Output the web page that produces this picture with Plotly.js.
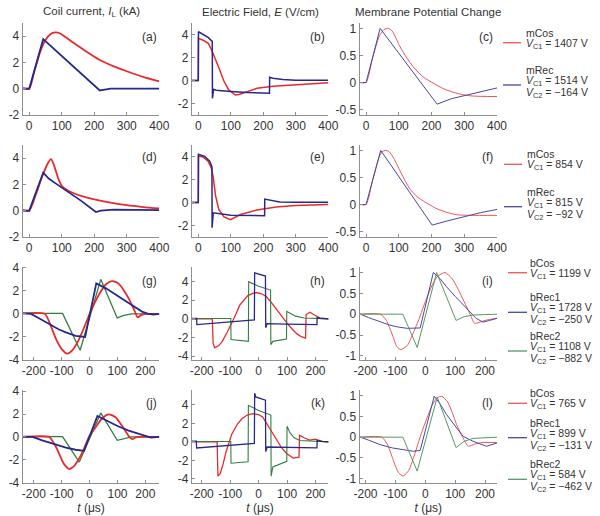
<!DOCTYPE html>
<html><head><meta charset="utf-8">
<script src="https://cdn.plot.ly/plotly-3.0.1.min.js"></script>
<style>html,body{margin:0;padding:0;background:#fff}#chart{width:600px;height:516px}</style>
</head><body><div id="chart"></div>
<script>
// ---------- DATA ----------
// (a) coil current, kA
const aCosT=[-20,0,15,35,50,65,80,95,110,130,146,180,217,260,300,350,400];
const aCosY=[0.03,0,1.25,2.9,3.7,4.15,4.28,4.2,3.95,3.6,3.33,2.75,2.18,1.7,1.33,0.9,0.56];
const aRecT=[-20,0,43,217,228,250,400];
const aRecY=[0.03,0,3.77,-0.13,-0.08,0,0];
// (b) electric field, V/cm
const bCosT=[-20,0,0.5,15,31,41,62,78,93,109,114,125,150,181,230,284,340,400];
const bCosY=[0,0,3.67,3.5,3.23,2.65,1.2,0,-0.8,-1.2,-1.26,-1.22,-0.95,-0.68,-0.5,-0.39,-0.28,-0.19];
const bRecT=[-20,0,0.5,15,30,43,43.5,47,55,100,150,219,219.5,230,260,300,400];
const bRecY=[0,0,4.24,4.0,3.75,3.4,-1.55,-0.77,-0.85,-0.95,-1.05,-1.1,0.28,0.2,0.08,0.03,0.02];
// (c) membrane potential change
const cCosT=[-20,0,20,40,55,68,80,104,125,144,175,205,235,266,300,327,400];
const cCosY=[0,0,0.45,0.85,0.98,1.0,0.95,0.66,0.45,0.29,0.1,-0.01,-0.11,-0.18,-0.23,-0.25,-0.26];
const cRecT=[-20,0,43,104,144,180,217,260,327,400];
const cRecY=[0,0,1.0,0.51,0.17,-0.12,-0.4,-0.3,-0.21,-0.1];
// (d)
const dCosT=[-20,0,20,40,55,67,75,90,100,115,135,170,200,250,300,350,400];
const dCosY=[0.03,0,1.2,2.6,3.5,3.92,3.55,2.4,1.9,1.6,1.35,1.05,0.87,0.62,0.42,0.28,0.17];
const dRecT=[-20,0,43,60,80,120,160,205,220,260,400];
const dRecY=[0.03,0,2.9,2.45,2.1,1.45,0.75,-0.1,0.0,0.08,0.05];
// (e)
const eCosT=[-20,0,0.5,15,30,40,46,53,63,79,99,115,130,180,240,300,400];
const eCosY=[0,0,4.05,3.95,3.6,3.0,2.2,0.6,-0.6,-1.25,-1.5,-1.3,-1.05,-0.65,-0.4,-0.27,-0.17];
const eRecT=[-20,0,0.5,20,35,42,42.5,46,100,204,204.5,220,250,300,400];
const eRecY=[0,0,4.2,4.0,3.6,3.1,-2.2,-0.9,-1.1,-1.15,0.3,0.2,0.05,0.03,0.02];
// (f)
const fCosT=[-20,0,20,40,50,60,70,85,104,120,135,155,176,217,250,278,320,400];
const fCosY=[0,0,0.45,0.88,0.98,1.0,0.98,0.85,0.62,0.43,0.28,0.15,0.06,-0.08,-0.15,-0.19,-0.2,-0.2];
const fRecT=[-20,0,45,100,150,202,250,300,350,400];
const fRecY=[0,0,1.0,0.52,0.09,-0.38,-0.3,-0.22,-0.15,-0.09];
// (g)
const gCosT=[-240,-160,-140,-120,-100,-80,-60,-40,-20,0,20,40,60,80,100,120,140,160,172,185,200,250];
const gCosY=[0.05,0,-1.0,-2.2,-3.05,-3.45,-3.1,-2.3,-1.2,0,1.05,1.95,2.6,2.85,2.7,2.15,1.35,0.35,-0.3,-0.1,0,0];
const gRec1T=[-240,-210,-180,-144,-110,-85,-50,-16,24,60,100,140,188,210,230,250];
const gRec1Y=[0.05,0,-0.4,-0.9,-1.35,-1.6,-1.9,-2.0,2.65,2.2,1.6,0.95,0.2,0,-0.05,0];
const gRec2T=[-240,-97,-34,40,99,120,150,250];
const gRec2Y=[0.05,0.05,-3.15,3.0,-0.35,-0.15,0,0];
// (h)
const hCosT=[-240,-163,-160,-155,-140,-128,-110,-97,-80,-67,-50,-38,-20,-8,10,27,45,63,80,99,120,135,150,165,167,180,195,215,250];
const hCosY=[0,0,-2.6,-3.1,-2.85,-2.4,-1.4,-0.6,0.5,1.45,2.1,2.5,2.75,2.83,2.7,2.4,1.75,1.0,0.3,-0.43,-1.15,-1.6,-1.9,-2.05,0.45,0.72,0.45,0.12,0];
const hRec1T=[-240,-218,-217,-150,-80,-15,-14,0,24,25,30,100,205,206,215,250];
const hRec1Y=[0.05,0.05,-0.6,-0.45,-0.3,-0.1,4.95,4.8,4.6,-0.95,-0.5,-0.55,-0.6,0.15,0.05,0];
const hRec2T=[-240,-98,-97,-36,-35,0,42,43,50,98,99,110,130,160,250];
const hRec2Y=[0.05,0.05,-2.2,-2.4,4.0,3.5,3.1,-2.75,-2.4,-2.15,0.8,0.6,0.3,0.1,0];
// (i)
const iCosT=[-220,-150,-130,-110,-95,-82,-60,-40,-20,0,20,40,66,90,110,130,150,165,180,200,220,240];
const iCosY=[0,0,-0.15,-0.5,-0.78,-0.85,-0.75,-0.45,-0.1,0.3,0.65,0.9,1.0,0.85,0.6,0.3,0.0,-0.22,-0.2,-0.15,-0.12,-0.1];
const iRec1T=[-220,-217,-190,-150,-120,-90,-60,-17,27,50,71,100,126,150,170,193,215,240];
const iRec1Y=[0,0,-0.08,-0.19,-0.26,-0.31,-0.34,-0.33,1.0,0.85,0.66,0.43,0.22,0.05,-0.1,-0.19,-0.15,-0.1];
const iRec2T=[-220,-75,-27,38,103,130,160,240];
const iRec2Y=[0,0,-0.8,1.0,-0.15,-0.06,-0.02,0];
// (j)
const jCosT=[-240,-145,-132,-120,-108,-91,-73,-58,-43,-30,-19,0,22,46,69,93,117,141,153,165,180,250];
const jCosY=[0,0,-0.4,-0.9,-1.55,-2.4,-2.8,-2.6,-2.1,-1.55,-0.95,0.1,0.85,1.65,1.97,1.72,0.95,0.05,-0.2,-0.05,0,0];
const jRec1T=[-240,-205,-170,-144,-110,-85,-50,-20,28,60,100,140,170,200,220,250];
const jRec1Y=[0.03,0,-0.3,-0.5,-0.75,-0.93,-1.12,-1.22,1.83,1.45,0.95,0.55,0.3,0.05,-0.05,0];
const jRec2T=[-240,-97,-37,40,99,120,150,250];
const jRec2Y=[0.03,0.03,-2.2,2.1,-0.3,-0.15,0,0];
// (k)
const kCosT=[-240,-146,-143,-135,-125,-114,-95,-75,-59,-40,-21,0,14,38,62,80,98,122,142,144,160,180,198,210,225,250];
const kCosY=[0,0,-3.7,-3.4,-2.4,-1.0,0.8,1.9,2.5,2.9,3.05,2.95,2.7,1.45,0.2,-0.6,-1.25,-1.75,-1.65,0.7,0.45,0.2,0.3,0.15,0.05,0];
const kRec1T=[-240,-219,-218,-150,-80,-15,-14,-10,24,25,30,100,205,206,220,250];
const kRec1Y=[0.07,0.07,-0.65,-0.5,-0.3,-0.15,5.25,4.85,4.5,-1.05,-0.55,-0.6,-0.65,0.15,0.05,0];
const kRec2T=[-240,-98,-97,-37,-36,0,43,44,50,99,100,110,125,145,250];
const kRec2Y=[0.05,0.05,-2.3,-2.15,3.95,3.4,2.9,-3.7,-2.7,-2.1,1.7,1.0,0.45,0.15,0];
// (l)
const lCosT=[-220,-145,-125,-105,-90,-74,-55,-35,-15,5,25,40,55,75,90,105,125,144,165,190,240];
const lCosY=[0,0,-0.2,-0.6,-0.85,-0.94,-0.8,-0.4,0.05,0.45,0.8,0.95,0.99,0.85,0.6,0.3,0.0,-0.22,-0.17,-0.13,-0.13];
const lRec1T=[-220,-217,-190,-151,-110,-70,-40,-17,30,50,71,100,127,160,205,240];
const lRec1Y=[0,0,-0.07,-0.18,-0.26,-0.31,-0.34,-0.32,0.99,0.8,0.55,0.27,0.02,-0.1,-0.22,-0.14];
const lRec2T=[-220,-75,-27,40,103,130,160,240];
const lRec2Y=[0,0,-0.82,0.97,-0.25,-0.1,-0.03,0];

// tick labels
const xTicksMono=[0,100,200,300,400];
const xTicksBi=[-200,-100,0,100,200];
const yTicksCoilMono=[-2,0,2,4];
const yTicksFieldMono=[-2,0,2,4];
const yTicksMemMono=[-0.5,0,0.5,1];
const yTicksCoilBi=[-4,-2,0,2,4];
const yTicksFieldBi=[-4,-2,0,2,4];
const yTicksMemBi=[-1,-0.5,0,0.5,1];

// titles and legend text
const columnTitles=['Coil current, <i>I</i><sub>L</sub> (kA)','Electric Field, <i>E</i> (V/cm)','Membrane Potential Change'];
const panelLabels=['(a)','(b)','(c)','(d)','(e)','(f)','(g)','(h)','(i)','(j)','(k)','(l)'];
const legendNames=[['mCos','mRec'],['mCos','mRec'],['bCos','bRec1','bRec2'],['bCos','bRec1','bRec2']];
const legendVC1=[[1407,1514],[854,815],[1199,1728,1108],[765,899,584]];
const legendVC2=[[null,-164],[null,-92],[null,-250,-882],[null,-131,-462]];

// ---------- LAYOUT ----------
const W=600,H=516;
const X=px=>px/W, Y=py=>1-py/H;
const FONT='"Liberation Sans", Arial, Helvetica, sans-serif';
const colDom=[[22.7,159.3],[191.8,328.3],[359.5,497]];
const rowDom=[[23,115],[145,237],[266.7,360],[390,482.7]];
const xRanges=[[[-20,400],[-20,400],[-20,400]],[[-20,400],[-20,400],[-20,400]],
               [[-240,250],[-235,245],[-220,240]],[[-240,250],[-235,245],[-220,240]]];
const yRanges=[[[-2,5],[-3,5],[-0.6,1.1]],[[-2,5],[-3,5],[-0.6,1.1]],
               [[-4,4.1],[-4.4,5.6],[-1.1,1.14]],[[-4,4.1],[-4.4,5.6],[-1.1,1.14]]];
const xTickSets=[xTicksMono,xTicksMono,xTicksBi,xTicksBi];
const yTickSets=[[yTicksCoilMono,yTicksFieldMono,yTicksMemMono],[yTicksCoilMono,yTicksFieldMono,yTicksMemMono],
                 [yTicksCoilBi,yTicksFieldBi,yTicksMemBi],[yTicksCoilBi,yTicksFieldBi,yTicksMemBi]];

const RED='rgb(232,42,42)', BLUE='rgb(38,40,140)', GREEN='rgb(52,125,62)';
const RED3='rgb(236,85,85)', BLUE3='rgb(70,72,160)', GREEN3='rgb(90,150,100)';

const panels=[
 [[aCosT,aCosY,'r'],[aRecT,aRecY,'b']],
 [[bCosT,bCosY,'r'],[bRecT,bRecY,'b']],
 [[cCosT,cCosY,'r'],[cRecT,cRecY,'b']],
 [[dCosT,dCosY,'r'],[dRecT,dRecY,'b']],
 [[eCosT,eCosY,'r'],[eRecT,eRecY,'b']],
 [[fCosT,fCosY,'r'],[fRecT,fRecY,'b']],
 [[gRec2T,gRec2Y,'g'],[gCosT,gCosY,'r'],[gRec1T,gRec1Y,'b']],
 [[hCosT,hCosY,'r'],[hRec2T,hRec2Y,'g'],[hRec1T,hRec1Y,'b']],
 [[iCosT,iCosY,'r'],[iRec1T,iRec1Y,'b'],[iRec2T,iRec2Y,'g']],
 [[jRec2T,jRec2Y,'g'],[jCosT,jCosY,'r'],[jRec1T,jRec1Y,'b']],
 [[kCosT,kCosY,'r'],[kRec2T,kRec2Y,'g'],[kRec1T,kRec1Y,'b']],
 [[lCosT,lCosY,'r'],[lRec1T,lRec1Y,'b'],[lRec2T,lRec2Y,'g']]
];

const traces=[];
const layout={width:W,height:H,margin:{l:0,r:0,t:0,b:0},paper_bgcolor:'#fff',plot_bgcolor:'rgba(0,0,0,0)',
  showlegend:false,font:{family:FONT,size:11,color:'#333'},annotations:[],shapes:[]};

panels.forEach((series,idx)=>{
  const row=Math.floor(idx/3), col=idx%3, k=idx+1;
  const xa='x'+(k===1?'':k), ya='y'+(k===1?'':k);
  series.forEach(([t,v,c])=>{
    let color,width,shape='linear';
    if(col===2){color=c==='r'?RED3:c==='b'?BLUE3:GREEN3;width=1;shape=(c==='r')?'spline':'linear';}
    else if(col===0){color=c==='r'?RED:c==='b'?BLUE:GREEN;width=c==='g'?1.3:1.8;shape=(c==='r')?'spline':'linear';}
    else {color=c==='r'?RED:c==='b'?BLUE:GREEN;width=c==='g'?1.1:(row<2?1.5:1.3);}
    traces.push({x:t,y:v,xaxis:xa,yaxis:ya,type:'scatter',mode:'lines',
      line:{color:color,width:width,shape:shape,smoothing:0.6},hoverinfo:'skip'});
  });
  const base={showline:true,linecolor:'#8f8f8f',linewidth:1,ticks:'inside',ticklen:3,tickcolor:'#8f8f8f',
    showgrid:false,zeroline:false,fixedrange:true,automargin:false,tickfont:{family:FONT,size:12,color:'#333'}};
  const xt=xTickSets[row], yt=yTickSets[row][col];
  const xax=Object.assign({},base,{domain:[X(colDom[col][0]),X(colDom[col][1])],
    anchor:ya,range:xRanges[row][col],tickmode:'array',tickvals:xt,ticktext:xt.map(String)});
  if(row===3) xax.title={text:'<i>t</i> (μs)',font:{family:FONT,size:12,color:'#333'},standoff:2};
  layout['xaxis'+(k===1?'':k)]=xax;
  layout['yaxis'+(k===1?'':k)]=Object.assign({},base,{domain:[Y(rowDom[row][1]),Y(rowDom[row][0])],
    anchor:xa,range:yRanges[row][col],tickmode:'array',tickvals:yt,ticktext:yt.map(String)});
  // panel label
  const labelX=[159,327,495][col], labelY=[37,157,281,403][row];
  layout.annotations.push({text:panelLabels[idx],xref:'paper',yref:'paper',x:X(labelX),y:Y(labelY),
    xanchor:'right',yanchor:'middle',showarrow:false,font:{family:FONT,size:12,color:'#333'}});
});

// column titles
columnTitles.forEach((t,c)=>{
  layout.annotations.push({text:t,xref:'paper',yref:'paper',x:X((colDom[c][0]+colDom[c][1])/2),y:Y(12),
    xanchor:'center',yanchor:'middle',showarrow:false,font:{family:FONT,size:11.5,color:'#333'}});
});

// legends (text + swatches)
const legVC1y=[[42.7,80],[164.3,201.7],[272.7,307.3,346],[403.3,432.7,474.3]];
const legTextX=[524,525,528,528];
const legSwX=[[503,521],[504,522],[508,527],[508,527]];
const fmt=v=>(v<0?'\u2212'+Math.abs(v):String(v))+' V';
legendNames.forEach((names,r)=>{
  names.forEach((nm,e)=>{
    const y0=legVC1y[r][e];
    const two=legendVC2[r][e]!==null;
    const color=nm.indexOf('Cos')>=0?RED3:(nm.endsWith('2')?GREEN3:BLUE3);
    const f={family:FONT,size:10.5,color:'#333'};
    layout.annotations.push({text:nm,xref:'paper',yref:'paper',x:X(legTextX[r]),y:Y(y0-10),xanchor:'left',yanchor:'middle',showarrow:false,font:f});
    layout.annotations.push({text:'<i>V</i><sub>C1</sub> = '+fmt(legendVC1[r][e]),xref:'paper',yref:'paper',x:X(legTextX[r]),y:Y(y0+1),xanchor:'left',yanchor:'middle',showarrow:false,font:f});
    if(two) layout.annotations.push({text:'<i>V</i><sub>C2</sub> = '+fmt(legendVC2[r][e]),xref:'paper',yref:'paper',x:X(legTextX[r]),y:Y(y0+13),xanchor:'left',yanchor:'middle',showarrow:false,font:f});
    const sy=two?y0+5:y0;
    layout.shapes.push({type:'line',xref:'paper',yref:'paper',x0:X(legSwX[r][0]),x1:X(legSwX[r][1]),y0:Y(sy),y1:Y(sy),line:{color:color,width:1.3}});
  });
});

Plotly.newPlot('chart',traces,layout,{displayModeBar:false,staticPlot:true});
</script></body></html>
